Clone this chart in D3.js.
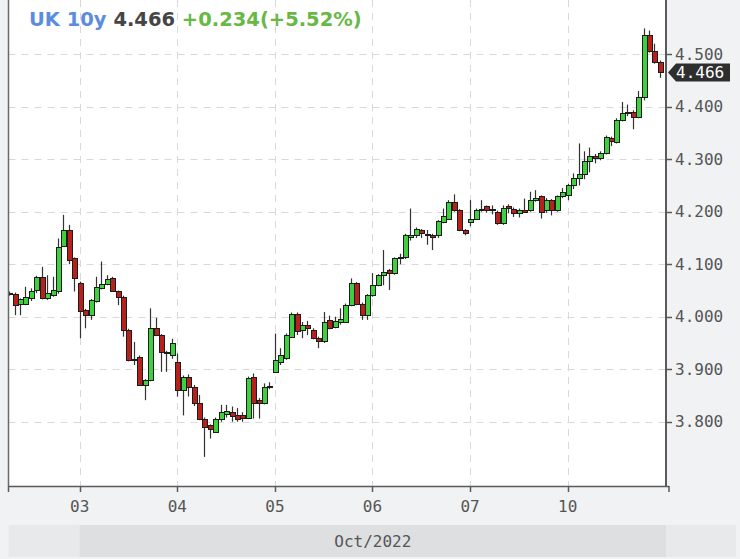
<!DOCTYPE html>
<html><head><meta charset="utf-8">
<script src="https://cdn.jsdelivr.net/npm/d3@7"></script>
<style>
html,body{margin:0;padding:0;background:#f1f2f4;}
svg{display:block;}
</style></head><body>
<svg id="c" width="740" height="559"></svg>
<script>
// ---- data ----
const symbol = "UK 10y";
const lastText = "4.466";
const changeText = "+0.234(+5.52%)";
const lastPrice = 4.466;
const monthLabel = "Oct/2022";
const sessions = ["30", "03", "04", "05", "06", "07", "10"];
const sessionCounts = [13, 18, 18, 18, 18, 18, 18];
const yTicks = [3.8, 3.9, 4.0, 4.1, 4.2, 4.3, 4.4, 4.5];
const open = [
4.046,4.044,4.025,4.025,4.035,4.051,4.076,4.036,4.041,4.049,4.135,4.165,4.111,
4.065,4.013,4.003,4.029,4.054,4.063,4.073,4.049,4.038,3.975,3.917,3.924,3.870,3.879,3.978,3.965,3.933,3.928,
3.914,3.860,3.886,3.867,3.835,3.806,3.793,3.781,3.806,3.814,3.818,3.813,3.813,3.807,3.886,3.841,3.835,3.866,
3.895,3.914,3.921,3.962,4.006,3.975,3.984,3.975,3.959,3.953,3.994,3.980,3.990,3.990,4.022,4.064,4.025,4.003,
4.041,4.060,4.080,4.089,4.083,4.111,4.114,4.152,4.156,4.165,4.157,4.155,4.156,4.181,4.187,4.219,4.203,4.165,
4.181,4.187,4.203,4.210,4.203,4.200,4.178,4.210,4.206,4.197,4.203,4.203,4.222,4.229,4.203,4.222,4.203,4.229,
4.232,4.251,4.264,4.272,4.297,4.306,4.302,4.311,4.341,4.333,4.375,4.388,4.390,4.380,4.418,4.536,4.507,4.486];
const high = [
4.048,4.046,4.035,4.057,4.054,4.078,4.095,4.079,4.076,4.149,4.194,4.175,4.113,
4.067,4.015,4.034,4.076,4.105,4.079,4.076,4.050,4.040,3.977,3.952,3.926,3.881,4.016,3.998,3.967,3.935,3.958,
3.930,3.888,3.890,3.870,3.851,3.808,3.795,3.808,3.832,3.832,3.829,3.826,3.818,3.886,3.892,3.845,3.873,3.875,
3.968,3.940,3.968,4.008,4.008,3.990,3.992,3.978,3.962,4.009,4.002,4.000,4.016,4.025,4.073,4.066,4.027,4.043,
4.083,4.081,4.127,4.091,4.113,4.120,4.158,4.206,4.170,4.167,4.165,4.158,4.184,4.206,4.222,4.233,4.205,4.167,
4.222,4.206,4.222,4.212,4.212,4.202,4.212,4.214,4.208,4.206,4.225,4.238,4.241,4.231,4.226,4.224,4.231,4.245,
4.253,4.273,4.330,4.315,4.322,4.310,4.315,4.345,4.343,4.378,4.409,4.404,4.393,4.430,4.549,4.545,4.520,4.488];
const low = [
4.040,4.003,4.003,4.022,4.030,4.045,4.033,4.032,4.038,4.044,4.133,4.100,4.048,
3.959,3.978,3.994,4.027,4.052,4.060,4.047,4.022,3.962,3.915,3.908,3.868,3.841,3.877,3.963,3.895,3.895,3.920,
3.848,3.812,3.848,3.830,3.803,3.733,3.768,3.779,3.800,3.808,3.800,3.800,3.800,3.805,3.806,3.806,3.833,3.862,
3.893,3.908,3.918,3.960,3.965,3.959,3.965,3.957,3.940,3.950,3.976,3.978,3.985,3.988,4.020,4.022,3.994,3.994,
4.038,4.058,4.060,4.051,4.080,4.100,4.110,4.145,4.150,4.150,4.137,4.127,4.150,4.178,4.185,4.200,4.163,4.155,
4.172,4.185,4.200,4.198,4.195,4.175,4.175,4.197,4.190,4.189,4.198,4.200,4.219,4.187,4.198,4.193,4.200,4.226,
4.222,4.243,4.250,4.262,4.275,4.292,4.298,4.309,4.325,4.330,4.372,4.382,4.357,4.378,4.412,4.503,4.482,4.455];
const close = [
4.044,4.022,4.033,4.038,4.049,4.076,4.036,4.046,4.051,4.133,4.165,4.108,4.074,
4.010,4.003,4.032,4.057,4.063,4.072,4.049,4.038,3.975,3.917,3.920,3.870,3.879,3.978,3.965,3.933,3.930,3.949,
3.860,3.886,3.867,3.835,3.806,3.790,3.787,3.806,3.819,3.820,3.811,3.806,3.807,3.883,3.835,3.835,3.867,3.868,
3.917,3.927,3.965,4.006,3.972,3.984,3.978,3.959,3.953,3.990,3.978,3.991,3.995,4.022,4.064,4.025,4.003,4.041,
4.060,4.079,4.086,4.083,4.111,4.114,4.156,4.156,4.168,4.159,4.155,4.152,4.182,4.191,4.219,4.203,4.165,4.159,
4.187,4.203,4.206,4.203,4.205,4.178,4.208,4.207,4.197,4.203,4.200,4.222,4.226,4.200,4.222,4.203,4.229,4.238,
4.251,4.264,4.272,4.297,4.306,4.302,4.311,4.343,4.334,4.375,4.388,4.390,4.380,4.418,4.536,4.506,4.486,4.466];

// ---- layout ----
const W = 740, H = 559;
const plot = {left: 8.5, right: 666, top: 0, bottom: 486};
const N = open.length;
const FONT = "'DejaVu Sans Mono', monospace";

const svg = d3.select("#c");
const x = d3.scaleLinear().domain([-0.13, N + 0.13]).range([plot.left, plot.right]);
const y = d3.scaleLinear().domain([3.6776, 4.6032]).range([plot.bottom, plot.top]);

const data = open.map((o, i) => ({i, o, h: high[i], l: low[i], c: close[i]}));

// session starts
const starts = [];
let acc = 0;
sessionCounts.forEach((n) => { starts.push(acc); acc += n; });
const dayTicks = sessions.map((s, j) => ({label: s, i: starts[j]})).slice(1);

// background
svg.append("rect").attr("width", W).attr("height", H).attr("fill", "#f1f2f4");
svg.append("rect").attr("x", plot.left).attr("y", plot.top)
  .attr("width", plot.right - plot.left).attr("height", plot.bottom - plot.top).attr("fill", "#ffffff");

// grid
const grid = svg.append("g").attr("stroke", "#d9d9d9").attr("stroke-dasharray", "7,6").attr("stroke-width", 1);
grid.selectAll("line.h").data(yTicks).join("line")
  .attr("x1", plot.left).attr("x2", plot.right)
  .attr("y1", d => Math.round(y(d)) + 0.5).attr("y2", d => Math.round(y(d)) + 0.5);
grid.selectAll("line.v").data(dayTicks).join("line")
  .attr("y1", plot.top).attr("y2", plot.bottom)
  .attr("x1", d => Math.round(x(d.i)) + 0.5).attr("x2", d => Math.round(x(d.i)) + 0.5);

// clip
svg.append("clipPath").attr("id", "clip").append("rect")
  .attr("x", plot.left + 0.5).attr("y", plot.top).attr("width", plot.right - plot.left - 0.5).attr("height", plot.bottom - plot.top);

const cg = svg.append("g").attr("clip-path", "url(#clip)");
cg.selectAll("line.wick").data(data).join("line")
  .attr("x1", d => Math.round(x(d.i)) + 0.5).attr("x2", d => Math.round(x(d.i)) + 0.5)
  .attr("y1", d => y(d.h)).attr("y2", d => y(d.l))
  .attr("stroke", "#333").attr("stroke-width", 1.2);
cg.selectAll("rect.body").data(data).join("rect")
  .attr("x", d => Math.round(x(d.i)) - 1.5)
  .attr("width", 5)
  .attr("y", d => Math.round(y(Math.max(d.o, d.c))) + 0.5)
  .attr("height", d => Math.max(1, Math.round(y(Math.min(d.o, d.c))) - Math.round(y(Math.max(d.o, d.c)))))
  .attr("fill", d => d.c >= d.o ? "#3fcf3f" : "#b8201c")
  .attr("stroke", "#1c1c1c").attr("stroke-width", 1);

// frame lines
svg.append("line").attr("x1", plot.left).attr("x2", plot.left).attr("y1", 0).attr("y2", plot.bottom)
  .attr("stroke", "#6a6a6a").attr("stroke-width", 1.5);
svg.append("line").attr("x1", plot.right).attr("x2", plot.right).attr("y1", 0).attr("y2", plot.bottom + 1)
  .attr("stroke", "#5a5a5a").attr("stroke-width", 2);
svg.append("line").attr("x1", plot.left - 0.5).attr("x2", plot.right + 3).attr("y1", plot.bottom + 0.5).attr("y2", plot.bottom + 0.5)
  .attr("stroke", "#5a5a5a").attr("stroke-width", 1.5);

// y axis (right)
const ya = svg.append("g");
ya.selectAll("line").data(yTicks).join("line")
  .attr("x1", plot.right).attr("x2", plot.right + 6)
  .attr("y1", d => Math.round(y(d)) + 0.5).attr("y2", d => Math.round(y(d)) + 0.5)
  .attr("stroke", "#5a5a5a").attr("stroke-width", 1.5);
ya.selectAll("text").data(yTicks).join("text")
  .attr("x", plot.right + 9).attr("y", d => y(d)).attr("dy", "0.36em")
  .attr("font-family", FONT).attr("font-size", 16).attr("fill", "#555")
  .text(d => d3.format(".3f")(d));

// last price label
const ly = Math.round(y(lastPrice)) + 0.5;
svg.append("path")
  .attr("d", `M${plot.right + 2},${ly} L${plot.right + 10},${ly - 9} L${W - 10},${ly - 9} L${W - 10},${ly + 9} L${plot.right + 10},${ly + 9} Z`)
  .attr("fill", "#2e2e2e");
svg.append("text").attr("x", plot.right + 10).attr("y", ly).attr("dy", "0.36em")
  .attr("font-family", FONT).attr("font-size", 16).attr("fill", "#fff").text(lastText);

// x axis ticks
const xa = svg.append("g");
const tickXs = [plot.left, ...dayTicks.map(d => Math.round(x(d.i)) + 0.5), plot.right + 3];
xa.selectAll("line").data(tickXs).join("line")
  .attr("x1", d => d).attr("x2", d => d).attr("y1", plot.bottom).attr("y2", plot.bottom + 6)
  .attr("stroke", "#5a5a5a").attr("stroke-width", 1.5);
xa.selectAll("text").data(dayTicks).join("text")
  .attr("x", d => x(d.i)).attr("y", 512).attr("text-anchor", "middle")
  .attr("font-family", FONT).attr("font-size", 16).attr("fill", "#555")
  .text(d => d.label);

// month band
svg.append("rect").attr("x", plot.left).attr("y", 525).attr("width", W - 4 - plot.left).attr("height", 32).attr("fill", "#e8e9eb");
const mx0 = x(dayTicks[0].i), mx1 = plot.right;
svg.append("rect").attr("x", mx0).attr("y", 525).attr("width", mx1 - mx0).attr("height", 32).attr("fill", "#dedfe1");
svg.append("text").attr("x", (mx0 + mx1) / 2).attr("y", 547).attr("text-anchor", "middle")
  .attr("font-family", FONT).attr("font-size", 16).attr("fill", "#555").text(monthLabel);

// title
const t = svg.append("text").attr("x", 29).attr("y", 26)
  .attr("font-family", "'DejaVu Sans', sans-serif").attr("font-weight", "bold").attr("font-size", 19.5);
t.append("tspan").attr("fill", "#5a8de0").text(symbol);
t.append("tspan").attr("fill", "#454545").text(" " + lastText);
t.append("tspan").attr("fill", "#68b845").text(" " + changeText);
</script>
</body></html>
